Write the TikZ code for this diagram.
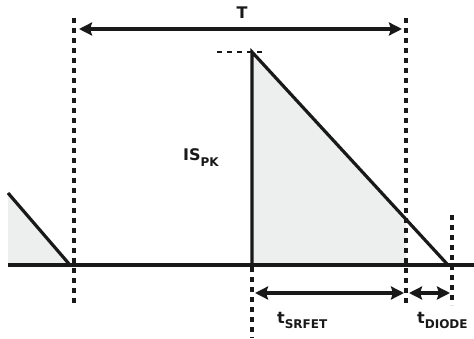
\documentclass[tikz,border=0pt]{standalone}
\usepackage{fontspec}
\setmainfont{DejaVu Sans}
\usetikzlibrary{arrows.meta}
\definecolor{shadegray}{RGB}{237,239,238}
\tikzset{
  wave/.style={line width=3.2pt, black!90},
  axisline/.style={line width=3.4pt, black!90},
  vdots/.style={line width=3.2pt, dash pattern=on 5pt off 5pt, black!90},
  hdash/.style={line width=2.6pt, dash pattern=on 5pt off 5pt, black!90},
  dimarrow/.style={line width=3.2pt, black!90, {Stealth[length=13pt,width=13pt,inset=2pt]}-{Stealth[length=13pt,width=13pt,inset=2pt]}},
  lbl/.style={font=\fontsize{16}{17}\selectfont\bfseries, inner sep=0pt, text=black!90},
}
\newcommand{\subtxt}[1]{\raisebox{-0.33em}{\fontsize{12}{13}\selectfont\bfseries #1}}
\begin{document}
\begin{tikzpicture}[x=1pt,y=-1pt]
\useasboundingbox (0,0) rectangle (474,339);
% key points
\coordinate (lt) at (8,193);
\coordinate (lz) at (70,265);
\coordinate (pk) at (252,52);
\coordinate (pb) at (252,265);
\coordinate (cut) at (406,219);
\coordinate (cutb) at (406,265);
\coordinate (end) at (448,265);
% shaded areas
\fill[shadegray] (lt) -- (lz) -- (8,265) -- cycle;
\fill[shadegray] (pk) -- (cut) -- (cutb) -- (pb) -- cycle;
% baseline
\coordinate (b0) at (8,265);
\coordinate (b1) at (474,265);
\draw[axisline] (b0) -- (b1);
% waveform
\draw[wave] (lt) -- (lz);
\draw[wave, line join=miter] (pb) -- (pk) -- (end);
% peak dashed
\coordinate (d0) at (217,52);
\coordinate (d1) at (262,52);
\draw[hdash] (d0) -- (d1);
% dotted verticals
\coordinate (v1a) at (74,18); \coordinate (v1b) at (74,305);
\coordinate (v2a) at (406,18); \coordinate (v2b) at (406,305);
\coordinate (v3a) at (452,215); \coordinate (v3b) at (452,305);
\coordinate (v4a) at (252,267); \coordinate (v4b) at (252,338);
\draw[vdots] (v1a) -- (v1b);
\draw[vdots] (v2a) -- (v2b);
\draw[vdots] (v3a) -- (v3b);
\draw[vdots] (v4a) -- (v4b);
% dimension arrows
\coordinate (ta) at (79,29); \coordinate (tb) at (402,29);
\draw[dimarrow] (ta) -- (tb);
\coordinate (sa) at (255,293); \coordinate (sb) at (404,293);
\draw[dimarrow] (sa) -- (sb);
\coordinate (da) at (409,293); \coordinate (db) at (450,293);
\draw[dimarrow] (da) -- (db);
% labels
\node[lbl] (T) at (242,13) {T};
\node[lbl, anchor=base west] (isp) at (183,161) {IS\subtxt{PK}};
\node[lbl, anchor=base west] (tsr) at (277,323) {t\subtxt{SRFET}};
\node[lbl, anchor=base west] (tdi) at (417,323) {t\subtxt{DIODE}};
\end{tikzpicture}
\end{document}
